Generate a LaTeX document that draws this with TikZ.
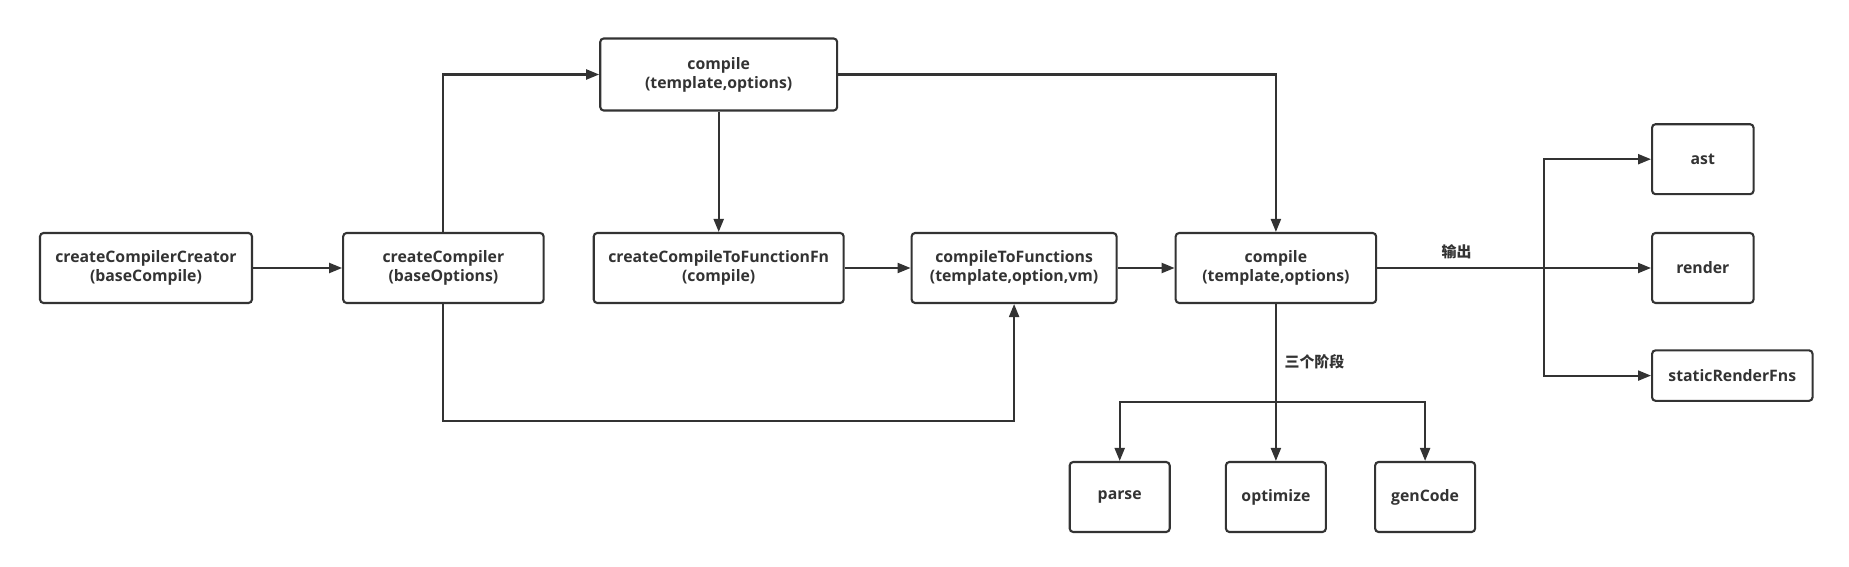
\documentclass[tikz,border=0pt]{standalone}
\usepackage{fontspec}
\setmainfont{Open Sans}
\newfontfamily\cjk{Noto Sans CJK SC}
\usetikzlibrary{arrows.meta,positioning,calc}

\definecolor{linegray}{HTML}{333333}

\tikzset{
	box/.style={draw=linegray,line width=1.2pt,rounded corners=0.7mm,align=center,
		text=linegray,font=\bfseries\fontsize{9}{10.7}\selectfont,minimum height=1.4cm},
	flow/.style={draw=linegray,line width=1.2pt,-{Triangle[length=2.6mm,width=2mm]}},
	tag/.style={text=linegray,font=\cjk\bfseries\fontsize{8.5}{11}\selectfont}
}

\begin{document}
\begin{tikzpicture}[x=0.02cm,y=-0.02cm]

	\useasboundingbox (0,0) rectangle (1849,567);

	\node[box,minimum width=4.24cm](creator) at (146,268){createCompilerCreator\\(baseCompile)};
	\node[box,minimum width=4.01cm](compiler) at (443.4,268){createCompiler\\(baseOptions)};
	\node[box,minimum width=4.74cm,minimum height=1.44cm](compiletop) at (718.7,74.5){compile\\(template,options)};
	\node[box,minimum width=5cm](tofnfn) at (718.7,268){createCompileToFunctionFn\\(compile)};
	\node[box,minimum width=4.1cm](tofunctions) at (1014.1,268){compileToFunctions\\(template,option,vm)};
	\node[box,minimum width=4.01cm](compileout) at (1275.9,268){compile\\(template,options)};

	\node[box,minimum width=2.03cm](ast) at (1702.8,159.2){ast};
	\node[box,minimum width=2.03cm](render) at (1702.8,268){render};
	\node[box,minimum width=3.21cm,minimum height=1.01cm](staticfns) at (1732.3,375.6){staticRenderFns};

	\node[box,minimum width=2cm](parse) at (1119.7,497){parse};
	\node[box,minimum width=2cm](optimize) at (1275.9,497){optimize};
	\node[box,minimum width=2cm](gencode) at (1425.1,497){genCode};

		\coordinate (lowbend) at (443.4,421);
		\coordinate (outsplit) at (1543.6,268);
		\coordinate (stagesplit) at (1275.9,402);

	% upper row
	\draw[flow] (creator) -- (compiler);
	\draw[flow] (compiler.north) |- (compiletop.west);
	\draw[flow] (compiler.south) -- (lowbend) -| (tofunctions.south);
	\draw[flow] (compiletop) -- (tofnfn);
	\draw[flow] (compiletop.east) -| (compileout.north);
	\draw[flow] (tofnfn) -- (tofunctions);
	\draw[flow] (tofunctions) -- (compileout);

	% outputs
	\draw[flow] (compileout) -- node[tag,pos=0.29,above=1pt]{输出} (render);
	\draw[flow] (outsplit) |- (ast);
	\draw[flow] (outsplit) |- (staticfns);

	% three stages
	\draw[flow] (compileout.south) -- node[tag,pos=0.365,right=1pt]{三个阶段} (optimize.north);
	\draw[flow] (stagesplit) -| (parse.north);
	\draw[flow] (stagesplit) -| (gencode.north);

\end{tikzpicture}
\end{document}
